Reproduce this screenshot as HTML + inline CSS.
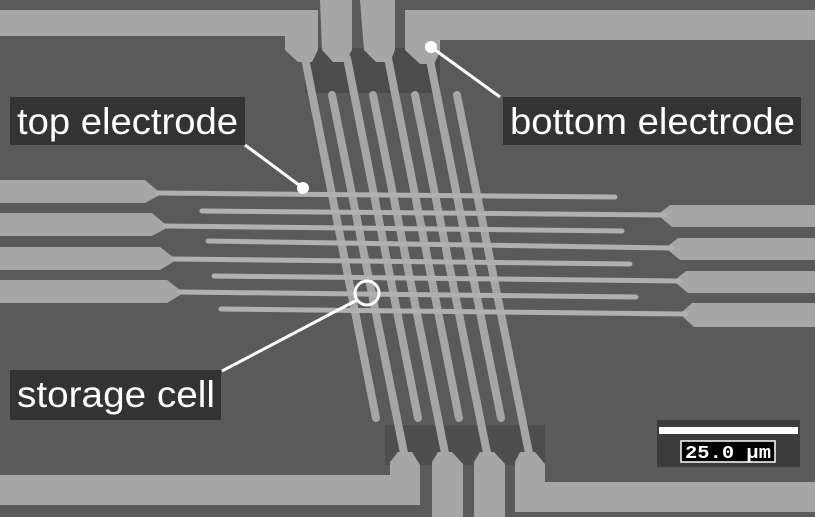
<!DOCTYPE html>
<html><head><meta charset="utf-8"><style>
html,body{margin:0;padding:0;background:#5a5a5a;}
svg{display:block;}
text{font-family:"Liberation Sans",sans-serif;}
</style></head><body>
<svg width="815" height="517" viewBox="0 0 815 517" xmlns="http://www.w3.org/2000/svg">
<rect width="815" height="517" fill="#5a5a5a"/>
<!-- darker gaps near pads -->
<rect x="305" y="48" width="135" height="45" fill="#4c4c4c"/>
<rect x="385" y="425" width="160" height="40" fill="#4e4e4e"/>
<g fill="#a6a6a6">
<path d="M0 10 H318 V50 L312 62 H298 L285 50 V36 H0 Z"/>
<path d="M320 0 H352 V50 L345 62 H333 L322 50 Z"/>
<path d="M360 0 H395 V50 L390 62 H376 L364 50 Z"/>
<path d="M405 10 H815 V40 H440 V52 L434 64 H420 L405 50 Z"/>
<path d="M0 475 H390 V462 L398 452 H412 L420 465 V505 H0 Z"/>
<path d="M432 462 L438 452 H452 L463 464 V517 H432 Z"/>
<path d="M474 462 L480 452 H494 L505 464 V517 H474 Z"/>
<path d="M515 462 L520 452 H535 L545 464 V482 H815 V512 H515 Z"/>
<path d="M0 180 H145 L158 191 V196 L145 203 H0 Z"/>
<path d="M0 213 H152 L165 224 V229 L152 236 H0 Z"/>
<path d="M0 247 H160 L173 257 V262 L160 270 H0 Z"/>
<path d="M0 280 H167 L180 290 V295 L167 303 H0 Z"/>
<path d="M815 205 H670 L660 213 V217 L672 227 H815 Z"/>
<path d="M815 238 H678 L668 246 V250 L680 260 H815 Z"/>
<path d="M815 271 H686 L676 279 V283 L688 293 H815 Z"/>
<path d="M815 303 H692 L682 312 V316 L694 327 H815 Z"/>
</g>
<g stroke="#a6a6a6" stroke-width="8" stroke-linecap="round">
<line x1="305" y1="58" x2="376" y2="418"/>
<line x1="347" y1="58" x2="418" y2="418"/>
<line x1="388" y1="58" x2="459" y2="418"/>
<line x1="430" y1="60" x2="501" y2="418"/>
<line x1="332" y1="95" x2="405" y2="458"/>
<line x1="373" y1="95" x2="446" y2="458"/>
<line x1="415" y1="95" x2="488" y2="458"/>
<line x1="457" y1="95" x2="530" y2="458"/>
</g>
<g stroke="#b0b0b0" stroke-width="5" stroke-linecap="round">
<line x1="158" y1="193" x2="615" y2="197"/>
<line x1="165" y1="226" x2="622" y2="231"/>
<line x1="173" y1="259" x2="630" y2="264"/>
<line x1="180" y1="292" x2="636" y2="297"/>
<line x1="202" y1="211" x2="665" y2="215"/>
<line x1="208" y1="241" x2="672" y2="248"/>
<line x1="214" y1="276" x2="680" y2="281"/>
<line x1="221" y1="309" x2="686" y2="314"/>
</g>
<g stroke="#fff" stroke-width="3" fill="#fff">
<line x1="245" y1="145" x2="303" y2="188"/>
<circle cx="303" cy="188" r="6" stroke="none"/>
<line x1="500" y1="97" x2="431" y2="47"/>
<circle cx="431" cy="47" r="6" stroke="none"/>
<line x1="222" y1="371" x2="357" y2="300"/>
<circle cx="367" cy="293" r="12" fill="none"/>
</g>
<rect x="10" y="97" width="235" height="48" fill="#333"/>
<text x="17" y="134" font-size="37" fill="#fff" textLength="221" lengthAdjust="spacingAndGlyphs">top electrode</text>
<rect x="503" y="97" width="298" height="48" fill="#333"/>
<text x="510" y="134" font-size="37" fill="#fff" textLength="285" lengthAdjust="spacingAndGlyphs">bottom electrode</text>
<rect x="10" y="370" width="211" height="50" fill="#333"/>
<text x="17" y="407" font-size="37" fill="#fff" textLength="198" lengthAdjust="spacingAndGlyphs">storage cell</text>
<rect x="657" y="420" width="143" height="47" fill="#3c3c3c"/>
<rect x="659" y="427" width="139" height="7" fill="#fff"/>
<rect x="681" y="441" width="94" height="21" fill="#000" stroke="#fff" stroke-width="1.5"/>
<text x="685" y="458" font-size="18" font-weight="bold" fill="#fff" textLength="86" lengthAdjust="spacingAndGlyphs" style="font-family:'Liberation Mono',monospace">25.0 µm</text>
</svg>
</body></html>
